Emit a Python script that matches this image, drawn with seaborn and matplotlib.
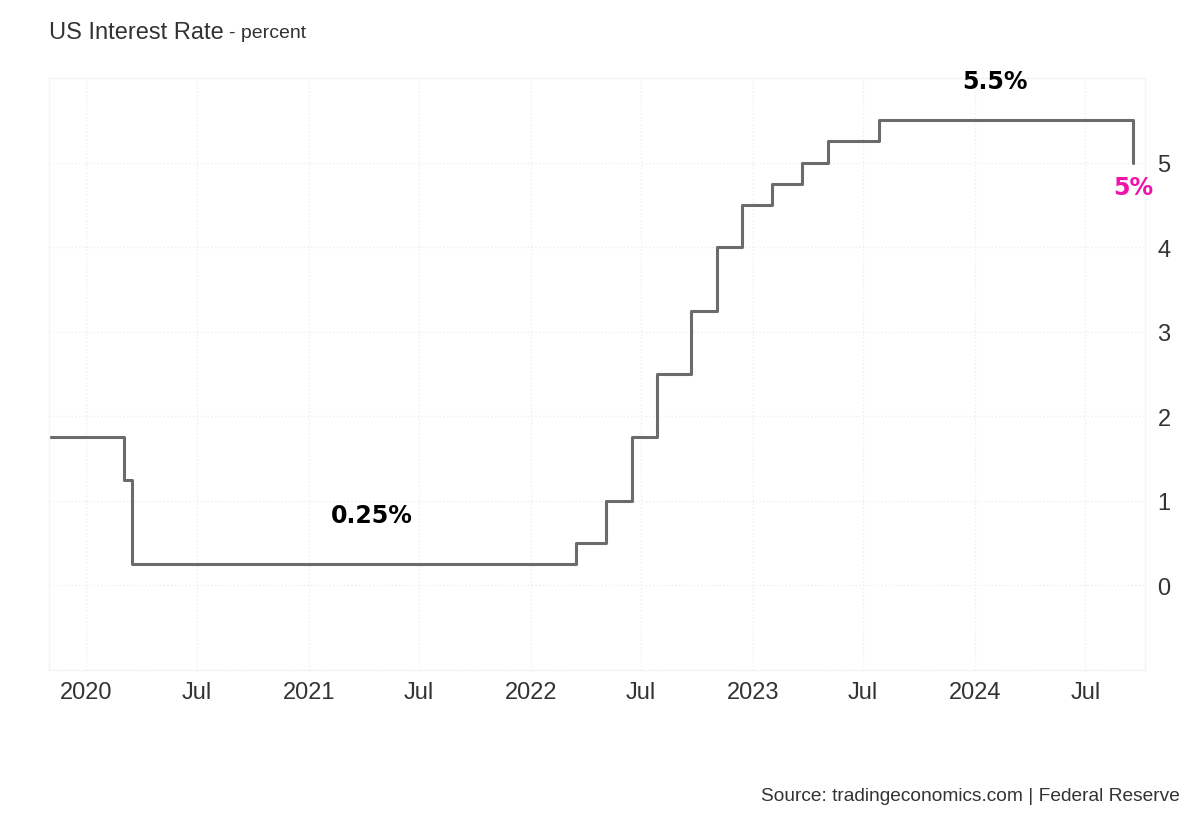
import matplotlib
matplotlib.use("Agg")
import matplotlib.pyplot as plt
import matplotlib.dates as mdates
import matplotlib.ticker
import seaborn as sns
import pandas as pd

# Fed funds rate (upper bound), dates of change
dates = ["2019-11-01", "2020-03-03", "2020-03-16", "2022-03-17", "2022-05-05",
         "2022-06-16", "2022-07-28", "2022-09-22", "2022-11-03", "2022-12-15",
         "2023-02-02", "2023-03-23", "2023-05-04", "2023-07-27", "2024-09-18"]
rates = [1.75, 1.25, 0.25, 0.5, 1.0, 1.75, 2.5, 3.25, 4.0, 4.5,
         4.75, 5.0, 5.25, 5.5, 5.0]

# callouts
label_text = ["5.5%", "0.25%", "5%"]
label_dates = ["2024-02-04", "2021-04-15", "2024-09-18"]
label_y = [5.96, 0.83, 4.71]
label_colors = ["black", "black", "#f013a8"]

df = pd.DataFrame({"date": pd.to_datetime(dates), "rate": rates})

sns.set_theme(style="white")
plt.rcParams['font.family'] = ['Liberation Sans', 'DejaVu Sans']

fig = plt.figure(figsize=(12, 8.2), dpi=100)
ax = fig.add_axes([0.0408, 0.1817, 0.9134, 0.722])

sns.lineplot(x="date", y="rate", data=df, ax=ax, drawstyle="steps-post",
             color="#6b6b6b", linewidth=2.2)

ax.set_xlim(pd.Timestamp("2019-11-01"), pd.Timestamp("2024-10-07"))
ax.set_ylim(-1, 6)

ax.xaxis.set_major_locator(mdates.MonthLocator(bymonth=[1, 7]))
ax.xaxis.set_major_formatter(matplotlib.ticker.FuncFormatter(
    lambda x, p: mdates.num2date(x).strftime("%Y") if mdates.num2date(x).month == 1 else "Jul"))
ax.yaxis.tick_right()
ax.set_yticks([-1, 0, 1, 2, 3, 4, 5, 6])
ax.set_yticklabels(["", "0", "1", "2", "3", "4", "5", ""])
ax.tick_params(axis="both", length=0, labelsize=17, labelcolor="#333333")
ax.tick_params(axis="y", pad=9)
ax.tick_params(axis="x", pad=8)
ax.set_xlabel("")
ax.set_ylabel("")

ax.grid(True, linestyle=":", color="#ededed", linewidth=1)
for s in ax.spines.values():
    s.set_color("#f4f4f4")
    s.set_linewidth(1)

for t, d, y, c in zip(label_text, label_dates, label_y, label_colors):
    ax.text(pd.Timestamp(d), y, t, ha="center", va="center", color=c,
            fontsize=17, fontweight="bold", family="DejaVu Sans")

fig.text(0.0408, 0.96, "US Interest Rate", fontsize=17, color="#333333",
         ha="left", va="center")
fig.text(0.191, 0.959, "- percent", fontsize=14, color="#333333",
         ha="left", va="center")
fig.text(0.983, 0.029, "Source: tradingeconomics.com | Federal Reserve",
         fontsize=13.8, color="#333333", ha="right", va="center")

plt.savefig("out.png", dpi=100)
